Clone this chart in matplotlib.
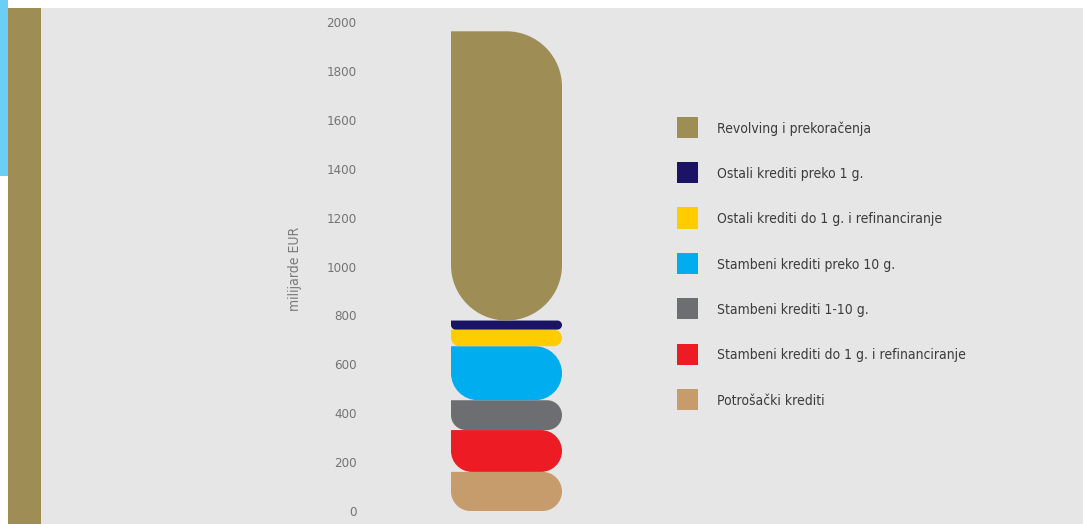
import matplotlib
matplotlib.use("Agg")
import matplotlib.pyplot as plt
from matplotlib.path import Path
from matplotlib.patches import PathPatch, Rectangle

# Stacked household-loan categories, bottom to top (billions EUR)
categories = [
    "Potrošački krediti",
    "Stambeni krediti do 1 g. i refinanciranje",
    "Stambeni krediti 1-10 g.",
    "Stambeni krediti preko 10 g.",
    "Ostali krediti do 1 g. i refinanciranje",
    "Ostali krediti preko 1 g.",
    "Revolving i prekoračenja",
]
values = [160, 171, 122, 221, 68, 37, 1183]
colors = ["#C69C6D", "#ED1C24", "#6D6E71", "#00AEEF", "#FFCC00", "#1B1464", "#9E8E56"]
yticks = [0, 200, 400, 600, 800, 1000, 1200, 1400, 1600, 1800, 2000]
ylabel = "milijarde EUR"

W, H, DPI = 1083, 524, 100
fig = plt.figure(figsize=(W / DPI, H / DPI), dpi=DPI, facecolor="white")

FONT = dict(family=["DejaVu Sans"], stretch="condensed")

def fx(px):
    return px / W

def fy(py_top):
    return 1 - py_top / H

# page background and decorative stripes
fig.patches.append(Rectangle((fx(8), 0), fx(W - 8), fy(8), transform=fig.transFigure,
                             facecolor="#E6E6E6", edgecolor="none", zorder=-3))
fig.patches.append(Rectangle((0, fy(176)), fx(8), fy(0) - fy(176), transform=fig.transFigure,
                             facecolor="#6ACFF6", edgecolor="none", zorder=-2))
fig.patches.append(Rectangle((fx(8), 0), fx(33), fy(8), transform=fig.transFigure,
                             facecolor="#9E8E56", edgecolor="none", zorder=-2))

# axes placed so the single stacked column sits in the middle
ax_left_px, ax_w_px = 367.75, 277.5
ax_bot_px, ax_h_px = 13, 489
ax = fig.add_axes([fx(ax_left_px), ax_bot_px / H, fx(ax_w_px), ax_h_px / H])
ax.set_zorder(1)
ax.set_facecolor("none")
ax.set_xlim(-1, 1)
ax.set_ylim(0, 2000)
for s in ax.spines.values():
    s.set_visible(False)
ax.set_xticks([])
ax.set_yticks(yticks)
ax.tick_params(axis="y", length=0, pad=8, labelcolor="#747474", labelsize=9.5)
for lab in ax.get_yticklabels():
    lab.set_fontfamily(FONT["family"])
    lab.set_fontstretch(FONT["stretch"])

fig.text(fx(295), fy(269), ylabel, rotation=90, ha="center", va="center",
         color="#7A7A7A", fontsize=10, **FONT)

# pixel scales of the data axes
sx = ax_w_px / 2.0
sy = ax_h_px / 2000.0
K = 0.5523

def segment(x0, x1, y0, y1):
    w_px = (x1 - x0) * sx
    h_px = (y1 - y0) * sy
    r = min(w_px, h_px) / 2.0
    rx, ry = r / sx, r / sy
    verts = [
        (x0, y1),
        (x0, y0 + ry),
        (x0, y0 + ry * (1 - K)), (x0 + rx * (1 - K), y0), (x0 + rx, y0),
        (x1 - rx, y0),
        (x1 - rx * (1 - K), y0), (x1, y0 + ry * (1 - K)), (x1, y0 + ry),
        (x1, y1 - ry),
        (x1, y1 - ry * (1 - K)), (x1 - rx * (1 - K), y1), (x1 - rx, y1),
        (x0, y1),
        (x0, y1),
    ]
    codes = ([Path.MOVETO, Path.LINETO] + [Path.CURVE4] * 3 + [Path.LINETO] +
             [Path.CURVE4] * 3 + [Path.LINETO] + [Path.CURVE4] * 3 +
             [Path.LINETO, Path.CLOSEPOLY])
    return Path(verts, codes)

bar_w = 0.8
base = 0.0
for v, c in zip(values, colors):
    p = segment(-bar_w / 2, bar_w / 2, base, base + v)
    ax.add_patch(PathPatch(p, facecolor=c, edgecolor="none", zorder=3))
    base += v

# legend, listed from the top of the stack downwards
sq_x, sq_size, txt_x = 677, 21, 717
row0, row_step = 127.2, 45.4
for i, (name, c) in enumerate(zip(categories[::-1], colors[::-1])):
    cy = row0 + i * row_step
    fig.patches.append(Rectangle((fx(sq_x), fy(cy + sq_size / 2)), fx(sq_size), sq_size / H,
                                 transform=fig.transFigure, facecolor=c, edgecolor="none", zorder=2))
    fig.text(fx(txt_x), fy(cy + 5.3), name, ha="left", va="baseline",
             color="#3C3C3C", fontsize=10, **FONT)

fig.savefig("out.png", dpi=DPI, facecolor=fig.get_facecolor())
